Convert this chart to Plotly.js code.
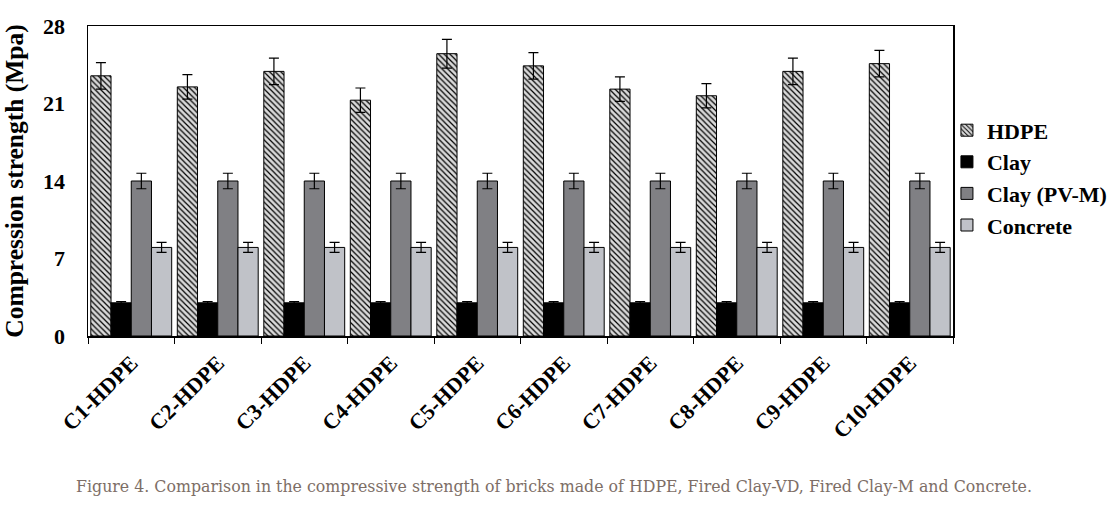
<!DOCTYPE html>
<html>
<head>
<meta charset="utf-8">
<script src="https://cdn.plot.ly/plotly-3.0.1.min.js"></script>
<style>
  html, body { margin: 0; padding: 0; background: #fff; }
  #plot { width: 1118px; height: 507px; }
</style>
</head>
<body>
<div id="plot"></div>
<script>
// samples on the x axis
const samples = ['C1-HDPE', 'C2-HDPE', 'C3-HDPE', 'C4-HDPE', 'C5-HDPE',
                 'C6-HDPE', 'C7-HDPE', 'C8-HDPE', 'C9-HDPE', 'C10-HDPE']

// series names for the legend
const seriesNames = ['HDPE', 'Clay', 'Clay (PV-M)', 'Concrete']

// compressive strength (MPa)
const hdpe     = [23.5, 22.5, 23.9, 21.3, 25.5, 24.4, 22.3, 21.7, 23.9, 24.6]
const hdpeErr  = [1.2, 1.1, 1.2, 1.1, 1.3, 1.2, 1.1, 1.1, 1.2, 1.2]
const clay     = [3.0, 3.0, 3.0, 3.0, 3.0, 3.0, 3.0, 3.0, 3.0, 3.0]
const clayErr  = [0.1, 0.1, 0.1, 0.1, 0.1, 0.1, 0.1, 0.1, 0.1, 0.1]
const pvm      = [14, 14, 14, 14, 14, 14, 14, 14, 14, 14]
const pvmErr   = [0.7, 0.7, 0.7, 0.7, 0.7, 0.7, 0.7, 0.7, 0.7, 0.7]
const concrete = [8.0, 8.0, 8.0, 8.0, 8.0, 8.0, 8.0, 8.0, 8.0, 8.0]
const concErr  = [0.45, 0.45, 0.45, 0.45, 0.45, 0.45, 0.45, 0.45, 0.45, 0.45]

const yTicks = [0, 7, 14, 21, 28]

const serif = 'Liberation Serif'

function serie (nome, valores, erros, marker) {
  return {
    type: 'bar', name: nome, x: samples, y: valores,
    marker: Object.assign({ line: { color: '#000', width: 1 } }, marker),
    error_y: { type: 'data', array: erros, visible: true, color: '#000', thickness: 1.2, width: 5 },
  }
}

const data = [
  serie(seriesNames[0], hdpe, hdpeErr, {
    color: '#d9d9d9',
    pattern: { shape: '\\', fgcolor: '#000', bgcolor: '#d9d9d9', size: 4, solidity: 0.3 }
  }),
  serie(seriesNames[1], clay, clayErr, { color: '#000000' }),
  serie(seriesNames[2], pvm, pvmErr, { color: '#808084' }),
  serie(seriesNames[3], concrete, concErr, { color: '#c0c2c8' }),
]

const layout = {
  width: 1118, height: 507,
  margin: { l: 87.5, r: 165, t: 26, b: 171, autoexpand: false },
  paper_bgcolor: '#fff', plot_bgcolor: '#fff',
  barmode: 'group', bargap: 0.065, bargroupgap: 0,
  showlegend: true,
  font: { family: serif },
  legend: {
    x: 0.993, xanchor: 'left', y: 0.51, yanchor: 'middle',
    bgcolor: 'rgba(0,0,0,0)',
    font: { family: serif, size: 22, color: '#000', weight: 'bold' },
    tracegroupgap: 16, itemwidth: 30,
  },
  xaxis: {
    showline: true, linecolor: '#000', linewidth: 1.5, mirror: true,
    ticks: 'outside', tickson: 'boundaries', ticklen: 6, tickcolor: '#000',
    tickangle: -45, ticklabelstandoff: 4,
    tickfont: { family: serif, size: 22, color: '#000', weight: 'bold' },
  },
  yaxis: {
    range: [0, 28], tickvals: yTicks, ticktext: yTicks.map(String),
    showgrid: false, zeroline: false,
    showline: true, linecolor: '#000', linewidth: 1.5, mirror: true,
    ticks: '', ticklabelstandoff: 17,
    tickfont: { family: serif, size: 22, color: '#000', weight: 'bold' },
    title: { text: 'Compression strength (Mpa)', standoff: 12,
             font: { family: serif, size: 25.5, color: '#000', weight: 'bold' } },
  },
  annotations: [{
    xref: 'paper', yref: 'paper', x: 0.539, y: -0.487,
    xanchor: 'center', yanchor: 'middle', showarrow: false,
    text: 'Figure 4. Comparison in the compressive strength of bricks made of HDPE, Fired Clay-VD, Fired Clay-M and Concrete.',
    font: { family: 'DejaVu Serif', size: 15.8, color: '#7d6e66' },
  }],
}

Plotly.newPlot('plot', data, layout, { staticPlot: true })
</script>
</body>
</html>
